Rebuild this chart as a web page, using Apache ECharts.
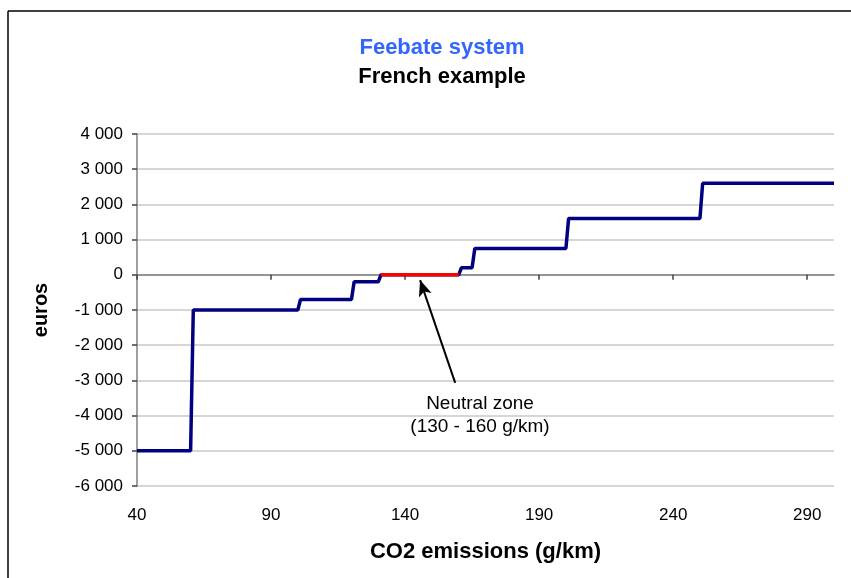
<!DOCTYPE html>
<html>
<head>
<meta charset="utf-8">
<script src="https://cdn.jsdelivr.net/npm/echarts@6/dist/echarts.min.js"></script>
<style>
  html, body { margin: 0; padding: 0; background: #fff; }
  #chart { width: 851px; height: 578px; }
</style>
</head>
<body>
<div id="chart"></div>
<script>
// CO2 emissions (g/km) at each step edge and the matching bonus / penalty (euros)
const emissions = [40, 60, 61, 100, 101, 120, 121, 130, 131, 160, 161, 165, 166, 200, 201, 250, 251, 300];
const euros     = [-5000, -5000, -1000, -1000, -700, -700, -200, -200, 0, 0, 200, 200, 750, 750, 1600, 1600, 2600, 2600];

// Neutral zone, no bonus and no penalty
const neutralEmissions = [131, 160];
const neutralEuros     = [0, 0];

// Arrow from the note to the neutral zone
const arrowFrom = [158.7, -3070];
const arrowTo   = [145.6, -150];

const xTicks = [40, 90, 140, 190, 240, 290];

const font = '"Liberation Sans", Arial, sans-serif';

const pairs = (xs, ys) => xs.map((x, i) => [x, ys[i]]);
const fmt = v => {
  const s = Math.abs(v).toString().replace(/\B(?=(\d{3})+(?!\d))/g, ' ');
  return (v < 0 ? '-' : '') + s;
};

const chart = echarts.init(document.getElementById('chart'), null, { renderer: 'canvas' });

chart.setOption({
  animation: false,
  backgroundColor: '#ffffff',
  title: [
    { text: 'Feebate system', left: 437, top: 32, textAlign: 'center',
      textStyle: { color: '#3366ff', fontSize: 22, fontWeight: 'bold', fontFamily: font } },
    { text: 'French example', left: 437, top: 61, textAlign: 'center',
      textStyle: { color: '#000000', fontSize: 22, fontWeight: 'bold', fontFamily: font } }
  ],
  grid: { left: 137, right: 17, top: 134, bottom: 92, containLabel: false },
  xAxis: [
    {
      type: 'value', min: 40, max: 300, interval: 50,
      position: 'bottom',
      axisLine: { show: false, onZero: false },
      axisTick: { show: false },
      splitLine: { show: false },
      axisLabel: {
        margin: 21, fontSize: 17, color: '#000', fontFamily: font,
        formatter: v => (xTicks.indexOf(v) >= 0 ? String(v) : '')
      },
      name: 'CO2 emissions (g/km)', nameLocation: 'middle', nameGap: 55,
      nameTextStyle: { fontSize: 22, fontWeight: 'bold', color: '#000', fontFamily: font }
    },
    {
      type: 'value', min: 40, max: 300, interval: 50,
      position: 'bottom',
      axisLine: { show: true, onZero: true, lineStyle: { color: '#808080', width: 1.5 } },
      axisTick: { show: true, inside: false, length: 5, customValues: xTicks,
                  lineStyle: { color: '#404040', width: 1.5 } },
      axisLabel: { show: false },
      splitLine: { show: false }
    }
  ],
  yAxis: {
    type: 'value', min: -6000, max: 4000, interval: 1000,
    axisLine: { show: true, onZero: false, lineStyle: { color: '#808080', width: 1.5 } },
    axisTick: { show: true, length: 5, lineStyle: { color: '#404040', width: 1.5 } },
    splitLine: { show: true, lineStyle: { color: '#c8c8c8', width: 1.5 } },
    axisLabel: { margin: 14, fontSize: 17, color: '#000', fontFamily: font, formatter: fmt },
    name: 'euros', nameLocation: 'middle', nameGap: 86, nameRotate: 90,
    nameTextStyle: { fontSize: 20, fontWeight: 'bold', color: '#000', fontFamily: font }
  },
  series: [
    {
      type: 'line', xAxisIndex: 0, data: pairs(emissions, euros),
      symbol: 'none', lineStyle: { color: '#000080', width: 3.5 }, z: 3
    },
    {
      type: 'line', xAxisIndex: 0, data: pairs(neutralEmissions, neutralEuros),
      symbol: 'none', lineStyle: { color: '#ff0000', width: 3.5 }, z: 4,
      markLine: {
        silent: true, animation: false,
        symbolSize: [10, 16],
        lineStyle: { color: '#000', width: 2, type: 'solid' },
        label: { show: false },
        data: [[
          { coord: arrowFrom, symbol: 'none' },
          { coord: arrowTo, symbol: 'arrow' }
        ]]
      }
    }
  ],
  graphic: [
    { type: 'line', shape: { x1: 8, y1: 11, x2: 851, y2: 11 }, style: { stroke: '#000', lineWidth: 1.5 } },
    { type: 'line', shape: { x1: 8, y1: 11, x2: 8, y2: 578 }, style: { stroke: '#000', lineWidth: 1.5 } },
    { type: 'text', x: 480, y: 404,
      style: { text: 'Neutral zone', fill: '#000', font: '19px ' + font, textAlign: 'center', textVerticalAlign: 'middle' } },
    { type: 'text', x: 480, y: 427,
      style: { text: '(130 - 160 g/km)', fill: '#000', font: '19px ' + font, textAlign: 'center', textVerticalAlign: 'middle' } }
  ]
});
</script>
</body>
</html>
